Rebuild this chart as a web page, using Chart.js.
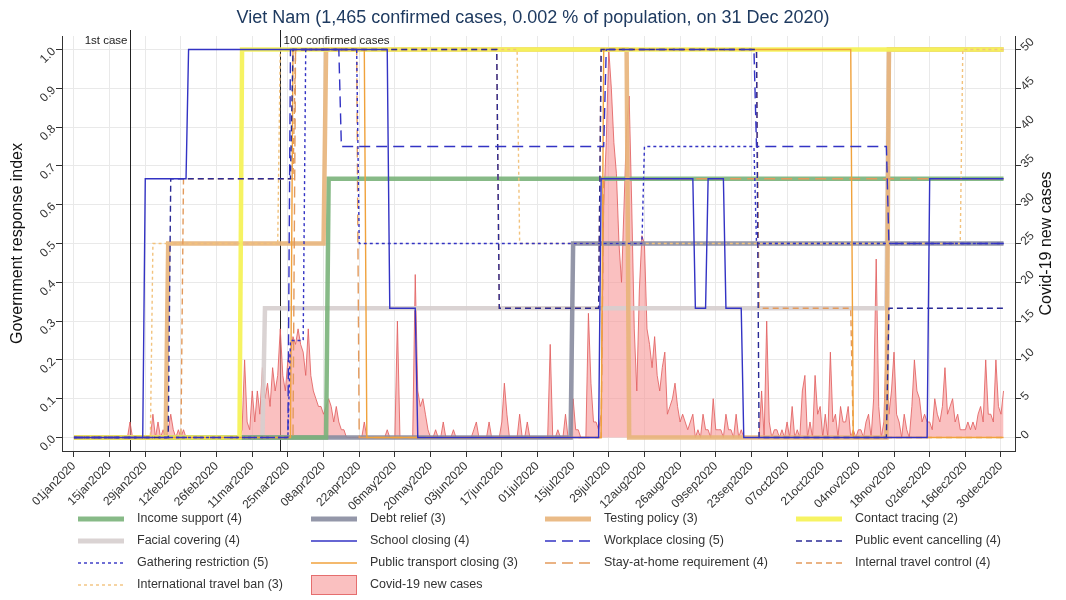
<!DOCTYPE html>
<html>
<head>
<meta charset="utf-8">
<title>Viet Nam - government response</title>
<script src="https://cdn.jsdelivr.net/npm/chart.js@4.4.1/dist/chart.umd.min.js"></script>
<style>
  html, body { margin: 0; padding: 0; background: #ffffff; }
  #wrap { width: 1066px; height: 600px; }
</style>
</head>
<body>
<div id="wrap"><canvas id="chart" width="1066" height="600"></canvas></div>
<script>
/* ── Labels and ticks ─────────────────────────────────────── */
const titleText = 'Viet Nam (1,465 confirmed cases, 0.002 % of population, on 31 Dec 2020)';
const leftAxisTitle = 'Government response index';
const rightAxisTitle = 'Covid-19 new cases';

const xTickLabels = [
  '01jan2020', '15jan2020', '29jan2020', '12feb2020', '26feb2020', '11mar2020',
  '25mar2020', '08apr2020', '22apr2020', '06may2020', '20may2020', '03jun2020',
  '17jun2020', '01jul2020', '15jul2020', '29jul2020', '12aug2020', '26aug2020',
  '09sep2020', '23sep2020', '07oct2020', '21oct2020', '04nov2020', '18nov2020',
  '02dec2020', '16dec2020', '30dec2020',
];
const indexTicks = [0, 0.1, 0.2, 0.3, 0.4, 0.5, 0.6, 0.7, 0.8, 0.9, 1.0];
const caseTicks = [0, 5, 10, 15, 20, 25, 30, 35, 40, 45, 50];

const eventDates = ['23jan2020', '22mar2020'];
const eventLabels = ['1st case', '100 confirmed cases'];

/* ── Policy levels: change dates and the level from that day on ── */
const incomeSupportDates = ['10apr2020'];
const incomeSupportLevels = [0.667];

const debtReliefDates = ['15jul2020'];
const debtReliefLevels = [0.5];

const testingPolicyDates = ['07feb2020', '09apr2020', '06aug2020', '16nov2020'];
const testingPolicyLevels = [0.5, 1, 0, 1];

const contactTracingDates = ['07mar2020'];
const contactTracingLevels = [1];

const facialCoveringDates = ['16mar2020', '16nov2020'];
const facialCoveringLevels = [0.333, 1];

const schoolClosingDates = ['29jan2020', '15feb2020', '04may2020', '15may2020', '26jul2020',
  '01sep2020', '06sep2020', '13sep2020', '20sep2020', '02dec2020'];
const schoolClosingLevels = [0.667, 1, 0.333, 0, 0.667, 0.333, 0.667, 0.333, 0, 0.667];

const workplaceClosingDates = ['26mar2020', '15apr2020', '28jul2020', '25sep2020', '16nov2020'];
const workplaceClosingLevels = [1, 0.75, 1, 0.75, 0.5];

const publicEventDates = ['08feb2020', '27mar2020', '16jun2020', '26jul2020', '26sep2020', '16nov2020'];
const publicEventLevels = [0.667, 1, 0.333, 1, 0, 0.333];

const gatheringDates = ['26mar2020', '01apr2020', '22apr2020', '12aug2020', '25sep2020'];
const gatheringLevels = [0.25, 1, 0.5, 0.75, 0.5];

const publicTransportDates = ['27mar2020', '25apr2020', '27jul2020', '02nov2020'];
const publicTransportLevels = [1, 0, 1, 0];

const stayAtHomeDates = ['28mar2020', '22apr2020', '27jul2020'];
const stayAtHomeLevels = [1, 0, 0.667];

const internalTravelDates = ['13feb2020', '28mar2020', '16jun2020', '26jul2020', '26sep2020', '02nov2020'];
const internalTravelLevels = [0.667, 1, 0.333, 1, 0.333, 0];

const intlTravelDates = ['01feb2020', '22mar2020', '24jun2020', '15dec2020'];
const intlTravelLevels = [0.5, 1, 0.5, 1];

/* ── Daily new cases, one array per month ─────────────────── */
const casesJan = [0,0,0,0,0,0,0,0,0,0, 0,0,0,0,0,0,0,0,0,0, 0,0,2,0,0,0,0,0,0,0, 0];
const casesFeb = [3,0,2,0,1,0,1,3,1,0, 1,0,1,0,0,0,0,0,0,0, 0,0,0,0,0,0,0,0,0];
const casesMar = [0,0,0,0,0,0,1,10,2,1, 6,2,6,3,9,5,7,4,9,6, 8,14,8,6,10,11,13,12,14,12, 11];
const casesApr = [8,14,8,6,5,4,4,3,4,5, 4,2,4,2,1,1,0,0,0,0, 0,0,0,2,0,0,0,0,0,0];
const casesMay = [0,0,1,0,0,0,15,0,0,0, 0,0,0,21,6,4,5,3,1,0, 0,1,0,0,2,0,0,0,1,0, 0];
const casesJun = [0,0,0,0,0,1,2,0,0,0, 0,2,0,0,0,0,2,7,3,0, 0,0,0,3,0,0,2,0,0,0];
const casesJul = [0,0,0,0,0,12,0,0,1,0, 0,3,0,0,5,1,1,0,0,0, 16,7,2,2,1,3,30,38,50,45, 38];
const casesAug = [34,25,20,30,40,44,30,14,6,19, 26,25,14,12,9,13,8,6,9,11, 3,4,5,7,4,2,3,2,1,2, 3];
const casesSep = [0,1,0,3,1,1,0,5,1,1, 1,0,3,1,1,0,3,0,1,0, 0,0,0,0,0,0,6,0,15,2];
const casesOct = [0,1,1,0,1,0,2,0,4,0, 1,0,6,8,0,2,0,8,3,4, 0,3,0,11,2,3,0,4,2,2, 4];
const casesNov = [0,1,0,1,1,0,2,3,0,5, 23,4,0,2,13,3,6,11,3,2, 0,3,1,0,4,10,6,5,2,3];
const casesDec = [2,2,1,5,3,2,4,9,3,4, 5,2,3,1,1,1,2,1,2,1, 3,4,2,10,3,3,2,10,4,3, 6];

/* ── Helpers ──────────────────────────────────────────────── */
const FONT = "'Liberation Sans', Arial, Helvetica, sans-serif";
const MONTHS = ['jan','feb','mar','apr','may','jun','jul','aug','sep','oct','nov','dec'];
const DAYS = 366;

// '15jan2020' -> days since 1 Jan 2020
function parseDay(s) {
  const d = parseInt(s.slice(0, 2), 10);
  const m = MONTHS.indexOf(s.slice(2, 5));
  const y = parseInt(s.slice(5), 10);
  return Math.round((Date.UTC(y, m, d) - Date.UTC(2020, 0, 1)) / 86400000);
}

// Expand change points into one value per day (level 0 before the first change)
function stepSeries(dates, levels) {
  const changes = dates.map(parseDay);
  const out = [];
  let level = 0, k = 0;
  for (let d = 0; d < DAYS; d++) {
    while (k < changes.length && changes[k] <= d) { level = levels[k]; k++; }
    out.push({ x: d, y: level });
  }
  return out;
}

const dailyCases = [].concat(casesJan, casesFeb, casesMar, casesApr, casesMay, casesJun,
  casesJul, casesAug, casesSep, casesOct, casesNov, casesDec);

/* ── Styles ───────────────────────────────────────────────── */
const THICK = 4.5;
const THIN = 1.4;
const blue = '#3333c4';
const darkBlue = '#2a2a96';
const orange = '#f0a23c';
const orangeDash = '#e39a5c';
const paleOrange = '#f2c27c';

// thin lines first so they sit on top of the thick ones
const series = [
  { label: 'School closing (4)',            dates: schoolClosingDates,    levels: schoolClosingLevels,    color: blue,       width: THIN, dash: [],      order: 1 },
  { label: 'Workplace closing (5)',         dates: workplaceClosingDates, levels: workplaceClosingLevels, color: blue,       width: THIN, dash: [11, 6], order: 1 },
  { label: 'Public event cancelling (4)',   dates: publicEventDates,      levels: publicEventLevels,      color: darkBlue,   width: THIN, dash: [6, 4],  order: 1 },
  { label: 'Gathering restriction (5)',     dates: gatheringDates,        levels: gatheringLevels,        color: blue,       width: THIN, dash: [3, 3],  order: 1 },
  { label: 'Public transport closing (3)',  dates: publicTransportDates,  levels: publicTransportLevels,  color: orange,     width: THIN, dash: [],      order: 1 },
  { label: 'Stay-at-home requirement (4)',  dates: stayAtHomeDates,       levels: stayAtHomeLevels,       color: orangeDash, width: THIN, dash: [11, 6], order: 1 },
  { label: 'Internal travel control (4)',   dates: internalTravelDates,   levels: internalTravelLevels,   color: orangeDash, width: THIN, dash: [6, 4],  order: 1 },
  { label: 'International travel ban (3)',  dates: intlTravelDates,       levels: intlTravelLevels,       color: paleOrange, width: THIN, dash: [3, 3],  order: 1 },
  { label: 'Contact tracing (2)',           dates: contactTracingDates,   levels: contactTracingLevels,   color: 'rgba(246,242,90,0.95)',  width: THICK, dash: [], order: 2 },
  { label: 'Testing policy (3)',            dates: testingPolicyDates,    levels: testingPolicyLevels,    color: 'rgba(232,180,122,0.9)',  width: THICK, dash: [], order: 2 },
  { label: 'Income support (4)',            dates: incomeSupportDates,    levels: incomeSupportLevels,    color: 'rgba(122,178,122,0.9)',  width: THICK, dash: [], order: 2 },
  { label: 'Debt relief (3)',               dates: debtReliefDates,       levels: debtReliefLevels,       color: 'rgba(136,140,160,0.9)',  width: THICK, dash: [], order: 2 },
  { label: 'Facial covering (4)',           dates: facialCoveringDates,   levels: facialCoveringLevels,   color: 'rgba(214,206,206,0.9)',  width: THICK, dash: [], order: 2 },
];

const casesFill = 'rgba(247,150,150,0.6)';
const casesLine = 'rgba(226,96,96,0.85)';

const legendOrder = [
  'Income support (4)', 'Debt relief (3)', 'Testing policy (3)', 'Contact tracing (2)',
  'Facial covering (4)', 'School closing (4)', 'Workplace closing (5)', 'Public event cancelling (4)',
  'Gathering restriction (5)', 'Public transport closing (3)', 'Stay-at-home requirement (4)', 'Internal travel control (4)',
  'International travel ban (3)', 'Covid-19 new cases',
];

/* ── Layout ───────────────────────────────────────────────── */
const PLOT_TOP = 36;
const LEFT_AXIS_W = 62;
const RIGHT_AXIS_W = 51;
const X_AXIS_H = 149;
const legendColX = [78, 311, 545, 796];
const legendRowY = [519, 541, 563, 585];
const SWATCH_W = 46;
const eventAlign = ['right', 'left'];

/* ── Datasets ─────────────────────────────────────────────── */
const datasets = series.map(s => ({
  label: s.label,
  data: stepSeries(s.dates, s.levels),
  yAxisID: 'y',
  borderColor: s.color,
  borderWidth: s.width,
  borderDash: s.dash,
  borderCapStyle: 'butt',
  pointRadius: 0,
  fill: false,
  tension: 0,
  order: s.order,
}));

datasets.push({
  label: 'Covid-19 new cases',
  data: dailyCases.map((v, d) => ({ x: d, y: v })),
  yAxisID: 'y1',
  borderColor: casesLine,
  backgroundColor: casesFill,
  borderWidth: 1,
  pointRadius: 0,
  fill: 'origin',
  tension: 0,
  order: 3,
});

/* ── Plugins: title, event markers, axis titles, legend ───── */
const decorations = {
  id: 'decorations',
  beforeDatasetsDraw(chart) {
    const { ctx, chartArea, scales } = chart;
    ctx.save();
    ctx.strokeStyle = '#222';
    ctx.lineWidth = 1;
    ctx.fillStyle = '#222';
    ctx.font = `11.5px ${FONT}`;
    ctx.textBaseline = 'middle';
    eventDates.forEach((ds, i) => {
      const x = Math.round(scales.x.getPixelForValue(parseDay(ds))) + 0.5;
      ctx.beginPath();
      ctx.moveTo(x, chartArea.top - 6);
      ctx.lineTo(x, chartArea.bottom);
      ctx.stroke();
      ctx.textAlign = eventAlign[i];
      ctx.fillText(eventLabels[i], eventAlign[i] === 'right' ? x - 3 : x + 3, chartArea.top + 5);
    });
    ctx.restore();
  },
  afterDraw(chart) {
    const { ctx, chartArea } = chart;
    ctx.save();

    // title
    ctx.fillStyle = '#1e3a60';
    ctx.font = `18px ${FONT}`;
    ctx.textAlign = 'center';
    ctx.textBaseline = 'middle';
    ctx.fillText(titleText, 533, 18);

    // axis titles
    const midY = (chartArea.top + chartArea.bottom) / 2;
    ctx.fillStyle = '#111';
    ctx.font = `16px ${FONT}`;
    ctx.save();
    ctx.translate(18, midY);
    ctx.rotate(-Math.PI / 2);
    ctx.fillText(leftAxisTitle, 0, 0);
    ctx.restore();
    ctx.save();
    ctx.translate(1047, midY);
    ctx.rotate(-Math.PI / 2);
    ctx.fillText(rightAxisTitle, 0, 0);
    ctx.restore();

    // legend, four columns
    ctx.font = `12.5px ${FONT}`;
    ctx.textAlign = 'left';
    legendOrder.forEach((name, i) => {
      const x = legendColX[i % 4];
      const y = legendRowY[Math.floor(i / 4)];
      const ds = chart.data.datasets.find(d => d.label === name);
      if (ds.fill === 'origin') {
        ctx.fillStyle = casesFill;
        ctx.fillRect(x, y - 10, SWATCH_W, 20);
        ctx.strokeStyle = casesLine;
        ctx.lineWidth = 1;
        ctx.strokeRect(x + 0.5, y - 9.5, SWATCH_W - 1, 19);
      } else {
        ctx.save();
        ctx.strokeStyle = ds.borderColor;
        ctx.lineWidth = ds.borderWidth > 2 ? 5 : ds.borderWidth;
        ctx.setLineDash(ds.borderDash);
        ctx.beginPath();
        ctx.moveTo(x, y);
        ctx.lineTo(x + SWATCH_W, y);
        ctx.stroke();
        ctx.restore();
      }
      ctx.fillStyle = '#333';
      ctx.fillText(name, x + 59, y);
    });
    ctx.restore();
  },
};

/* ── Chart ────────────────────────────────────────────────── */
const xTickDays = xTickLabels.map(parseDay);
const tickFont = { family: FONT, size: 12 };

new Chart(document.getElementById('chart'), {
  type: 'line',
  data: { datasets },
  options: {
    responsive: false,
    animation: false,
    events: [],
    layout: { padding: { top: PLOT_TOP, left: 0, right: 0, bottom: 0 } },
    plugins: {
      legend: { display: false },
      tooltip: { enabled: false },
      title: { display: false },
    },
    scales: {
      x: {
        type: 'linear',
        min: -4.7,
        max: 369.5,
        afterBuildTicks: s => { s.ticks = xTickDays.map(v => ({ value: v })); },
        afterFit: s => { s.height = X_AXIS_H; },
        ticks: {
          callback: (v, i) => xTickLabels[i],
          minRotation: 45,
          maxRotation: 45,
          autoSkip: false,
          padding: 2,
          color: '#333',
          font: tickFont,
        },
        grid: { color: '#e9e9e9', lineWidth: 1, tickColor: '#333', tickLength: 6 },
        border: { color: '#333', width: 1 },
      },
      y: {
        position: 'left',
        min: -0.035,
        max: 1.035,
        afterBuildTicks: s => { s.ticks = indexTicks.map(v => ({ value: v })); },
        afterFit: s => { s.width = LEFT_AXIS_W; },
        ticks: {
          callback: v => v.toFixed(1),
          minRotation: 45,
          maxRotation: 45,
          padding: 2,
          color: '#333',
          font: tickFont,
        },
        grid: { color: '#e9e9e9', lineWidth: 1, tickColor: '#333', tickLength: 6 },
        border: { color: '#333', width: 1 },
      },
      y1: {
        position: 'right',
        min: -1.74,
        max: 51.74,
        afterBuildTicks: s => { s.ticks = caseTicks.map(v => ({ value: v })); },
        afterFit: s => { s.width = RIGHT_AXIS_W; },
        ticks: {
          callback: v => String(v),
          minRotation: 45,
          maxRotation: 45,
          padding: 2,
          color: '#333',
          font: tickFont,
        },
        grid: { drawOnChartArea: false, tickColor: '#333', tickLength: 6 },
        border: { color: '#333', width: 1 },
      },
    },
  },
  plugins: [decorations],
});
</script>
</body>
</html>
